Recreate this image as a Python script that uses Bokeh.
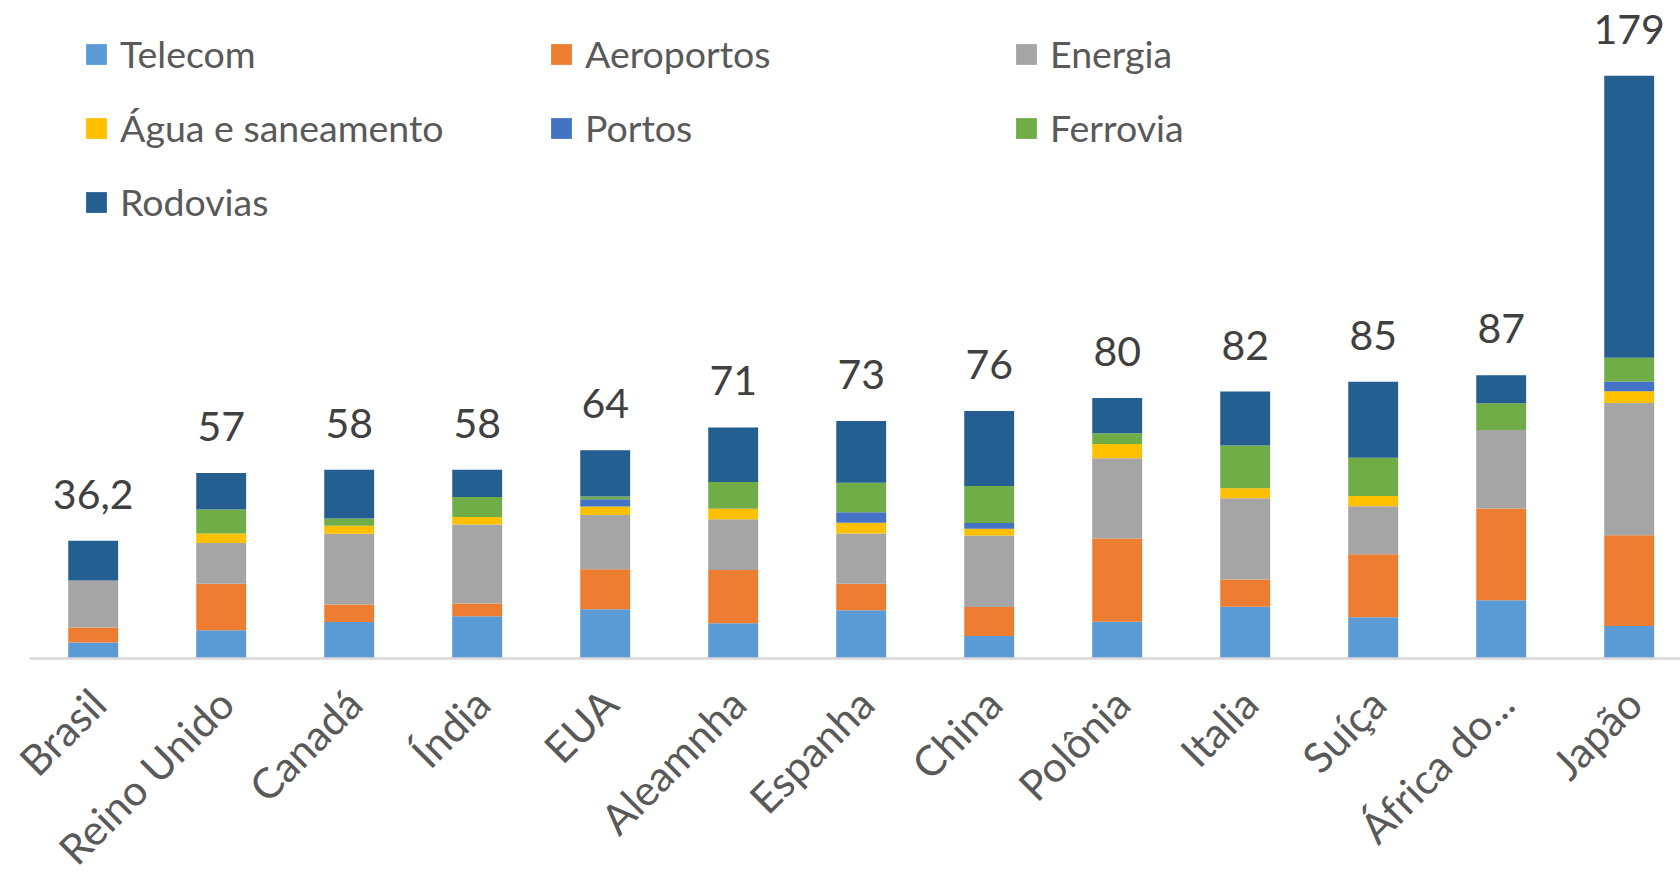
import math
from bokeh.plotting import figure
from bokeh.models import ColumnDataSource, Range1d, FixedTicker, LabelSet, LinearAxis
from bokeh.core.properties import value
from bokeh.embed import file_html
from bokeh.resources import INLINE

categories = ["Brasil", "Reino Unido", "Canadá", "Índia", "EUA", "Aleamnha", "Espanha",
              "China", "Polônia", "Italia", "Suíça", "África do...", "Japão"]
total_labels = ["36,2", "57", "58", "58", "64", "71", "73", "76", "80", "82", "85", "87", "179"]

telecom = [4.9, 8.7, 11.2, 13.0, 15.1, 10.8, 14.8, 6.9, 11.3, 15.9, 12.7, 17.9, 10.0]
aeroportos = [4.6, 14.3, 5.4, 3.9, 12.3, 16.4, 8.2, 8.9, 25.6, 8.4, 19.3, 28.2, 27.9]
energia = [14.5, 12.5, 21.7, 24.3, 16.7, 15.6, 15.4, 22.0, 24.6, 24.9, 14.8, 24.1, 40.6]
agua = [0, 2.9, 2.5, 2.3, 2.6, 3.2, 3.3, 2.1, 4.4, 3.1, 3.1, 0, 3.6]
portos = [0, 0, 0, 0, 2.2, 0, 3.2, 1.7, 0, 0, 0, 0, 3.0]
ferrovia = [0, 7.4, 2.2, 6.1, 0.9, 8.2, 9.1, 11.4, 3.3, 13.1, 11.8, 8.2, 7.3]
rodovias = [12.2, 11.2, 15.0, 8.4, 14.2, 16.8, 19.0, 23.0, 10.8, 16.6, 23.3, 8.6, 86.6]

series_names = ["Telecom", "Aeroportos", "Energia", "Água e saneamento", "Portos", "Ferrovia", "Rodovias"]
series_keys = ["telecom", "aeroportos", "energia", "agua", "portos", "ferrovia", "rodovias"]
colors = ["#5B9BD5", "#ED7D31", "#A5A5A5", "#FFC000", "#4472C4", "#70AD47", "#255E91"]

xs = list(range(len(categories)))
data = dict(x=xs, telecom=telecom, aeroportos=aeroportos, energia=energia, agua=agua,
            portos=portos, ferrovia=ferrovia, rodovias=rodovias)
data["total"] = [sum(v) for v in zip(telecom, aeroportos, energia, agua, portos, ferrovia, rodovias)]
data["label"] = total_labels
data["cat"] = categories
data["zero"] = [0] * len(categories)
source = ColumnDataSource(data)

FONT = "Lato"

p = figure(output_backend="svg", toolbar_location=None, width=1680, height=877,
           x_range=Range1d(-0.7242, 12.4008), y_range=Range1d(-67.28, 202.15),
           x_axis_location=None, y_axis_location=None,
           min_border_left=0, min_border_right=0, min_border_top=0, min_border_bottom=0,
           background_fill_color="white", border_fill_color="white")
p.outline_line_color = None
p.xgrid.visible = False
p.ygrid.visible = False

p.vbar_stack(series_keys, x="x", width=0.39, color=colors, line_color=None, source=source,
             legend_label=series_names)

totals_lbl = LabelSet(x="x", y="total", text="label", source=source, y_offset=32,
                      text_align="center", text_baseline="alphabetic",
                      text_font=value(FONT), text_font_size=value("41px"), text_color="#404040")
p.add_layout(totals_lbl)

cat_lbl = LabelSet(x="x", y="zero", text="cat", source=source, x_offset=-13, y_offset=-20,
                   angle=math.pi / 4, text_align="right", text_baseline="top",
                   text_font=value(FONT), text_font_size=value("42px"), text_color="#595959")
p.add_layout(cat_lbl)

ax = LinearAxis(fixed_location=0, ticker=FixedTicker(ticks=[]))
ax.major_tick_line_color = None
ax.minor_tick_line_color = None
ax.major_tick_out = 0
ax.major_tick_in = 0
ax.minor_tick_out = 0
ax.minor_tick_in = 0
ax.major_label_text_font_size = "0px"
ax.axis_line_color = "#D9D9D9"
ax.axis_line_width = 2.5
ax.bounds = (-0.5, 12.5)
p.add_layout(ax, "below")

lg = p.legend[0]
lg.orientation = "horizontal"
lg.ncols = 3
lg.location = (83, 653)
lg.padding = 0
lg.margin = 0
lg.spacing = 29
lg.glyph_width = 26
lg.glyph_height = 26
lg.label_standoff = 11
lg.label_width = 399
lg.label_text_font = FONT
lg.label_text_font_size = "37.5px"
lg.label_text_color = "#595959"
lg.border_line_color = None
lg.background_fill_alpha = 0

open("out.html", "w").write(file_html(p, INLINE))
